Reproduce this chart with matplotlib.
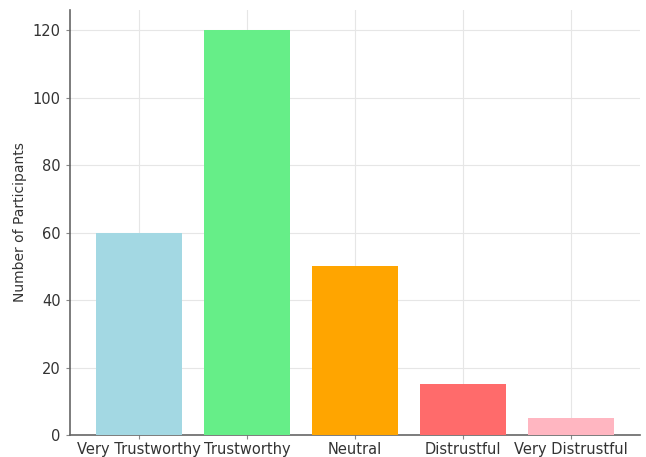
import matplotlib.pyplot as plt

# trust ratings collected from the survey
categories = ["Very Trustworthy", "Trustworthy", "Neutral", "Distrustful", "Very Distrustful"]
participants = [60, 120, 50, 15, 5]
bar_colors = ["#a3d8e3", "#66ee88", "#ffa500", "#ff6b6b", "#ffb6c1"]

fig = plt.figure(figsize=(6.46, 4.57), dpi=100)
ax = fig.add_axes([0.108, 0.048, 0.883, 0.930])

ax.bar(categories, participants, color=bar_colors, width=0.8, zorder=3)

ax.set_ylabel("Number of Participants", fontsize=10, color="#333333")
ax.grid(True, color="#e6e6e6", linewidth=0.8, zorder=0)
ax.set_axisbelow(True)

for side in ["top", "right"]:
    ax.spines[side].set_visible(False)
for side in ["left", "bottom"]:
    ax.spines[side].set_color("#666666")
    ax.spines[side].set_linewidth(1.2)

ax.tick_params(axis="both", labelsize=10.5, colors="#333333", length=3, color="#888888")
ax.tick_params(axis="x", pad=2)

fig.savefig("out.png", dpi=100)
